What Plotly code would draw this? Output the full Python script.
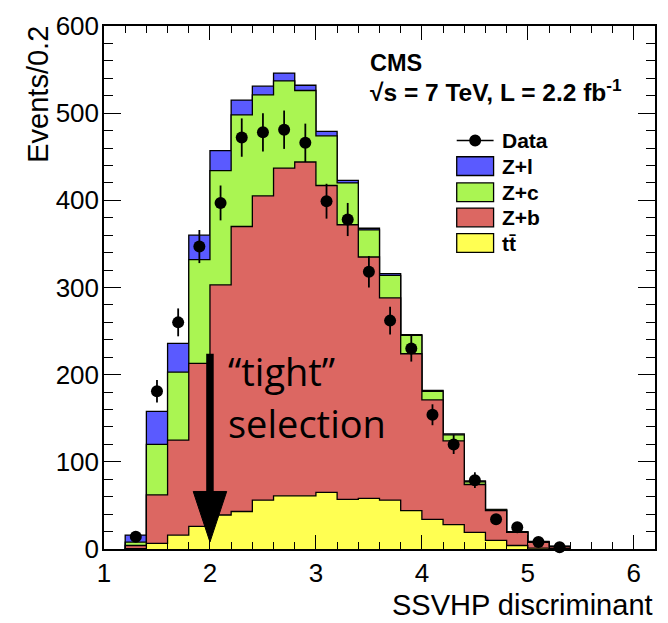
import plotly.graph_objects as go

# ---------------- data ----------------
bin_lo = [1.2, 1.4, 1.6, 1.8, 2.0, 2.2, 2.4, 2.6, 2.8, 3.0, 3.2,
          3.4, 3.6, 3.8, 4.0, 4.2, 4.4, 4.6, 4.8, 5.0, 5.2]
bin_width = 0.2
ttbar = [0.5, 6.5, 16, 26, 39, 43, 56, 61, 61, 65, 57, 58, 56, 44, 34, 28, 19, 10, 4, 1, 0.3]
z_b = [3.5, 55.5, 109, 187, 264, 327, 349, 376, 383, 352, 315, 277, 232, 180, 137, 96, 55, 34, 15, 6.5, 2.3]
z_c = [4, 58, 78, 119, 131, 128, 116, 100, 82, 57, 48, 31, 26, 21, 10, 7, 3, 1, 0.6, 0.8, 0.4]
z_l = [8, 38, 33, 28, 23, 17, 10, 9, 6, 5, 3, 2, 2, 1, 1, 1, 1, 0.5, 0.4, 0.3, 0.2]
data_val = [14, 181, 260, 347, 397, 472, 478, 481, 466, 399, 378, 318, 262, 230, 154, 120, 79, 34, 25, 8, 2]
data_err = [4, 13, 16, 19, 20, 22, 22, 22, 22, 20, 19, 18, 16, 15, 12, 11, 9, 6, 5, 3, 1.5]

TT = "tt\u0304"
colors = {"Z+l": "#5a5aff", "Z+c": "#aaf552", "Z+b": "#dc6762", TT: "#ffff52"}

# ---------------- figure ----------------
W, H = 668, 623
ML, MR, MT, MB = 104, 11, 19, 74
PW, PH = W - ML - MR, H - MT - MB


def px(x):
    return (x - ML) / PW


def py(y):
    return (H - MB - y) / PH


fig = go.Figure()

# cumulative stacks
cum_tt = list(ttbar)
cum_zb = [a + b for a, b in zip(cum_tt, z_b)]
cum_zc = [a + b for a, b in zip(cum_zb, z_c)]
cum_zl = [a + b for a, b in zip(cum_zc, z_l)]

x_end = bin_lo[-1] + bin_width
step_x = [bin_lo[0]] + bin_lo + [x_end, x_end]

for name, cum in [("Z+l", cum_zl), ("Z+c", cum_zc), ("Z+b", cum_zb), (TT, cum_tt)]:
    step_y = [0] + cum + [cum[-1], 0]
    fig.add_trace(go.Scatter(
        x=step_x, y=step_y, mode="lines", line_shape="hv",
        line=dict(color="black", width=1.3),
        fill="tozeroy", fillcolor=colors[name], name=name, showlegend=False,
        hoverinfo="skip"))

centers = [b + bin_width / 2 for b in bin_lo]
fig.add_trace(go.Scatter(
    x=centers, y=data_val, mode="markers", name="Data", showlegend=False,
    marker=dict(color="black", size=12),
    error_y=dict(type="data", array=data_err, color="black", thickness=1.8, width=0),
    cliponaxis=False))

# arrow "tight" selection
arrow_x = 2.0
fig.add_shape(type="line", x0=arrow_x, x1=arrow_x, y0=60, y1=224,
              line=dict(color="black", width=7.5), xref="x", yref="y")
fig.add_shape(type="path", xref="x", yref="y",
              path=f"M {arrow_x-0.158},66 L {arrow_x+0.158},66 L {arrow_x},8 Z",
              fillcolor="black", line=dict(color="black", width=1))

ann = []
ann.append(dict(text="\u201ctight\u201d", x=px(226), y=py(369), xref="paper", yref="paper",
                xanchor="left", yanchor="middle", showarrow=False,
                font=dict(family="Open Sans", size=38, color="black")))
ann.append(dict(text="selection", x=px(226), y=py(421), xref="paper", yref="paper",
                xanchor="left", yanchor="middle", showarrow=False,
                font=dict(family="Open Sans", size=38, color="black")))

# CMS labels
ann.append(dict(text="<b>CMS</b>", x=px(369), y=py(57), xref="paper", yref="paper",
                xanchor="left", yanchor="middle", showarrow=False,
                font=dict(family="Liberation Sans", size=23.5, color="black")))
ann.append(dict(text="<b>\u221as = 7 TeV, L = 2.2 fb<sup>-1</sup></b>", x=px(369), y=py(84),
                xref="paper", yref="paper", xanchor="left", yanchor="middle", showarrow=False,
                font=dict(family="Liberation Sans", size=24.5, color="black")))

# custom legend
lx0, lx1 = 458, 495
row_data = 135
rows = [("Z+l", 161), ("Z+c", 187.5), ("Z+b", 213), (TT, 239)]
box_h = 19
fig.add_shape(type="line", xref="paper", yref="paper", x0=px(lx0), x1=px(lx1),
              y0=py(row_data), y1=py(row_data), line=dict(color="black", width=1.5))
fig.add_shape(type="circle", xref="paper", yref="paper",
              x0=px((lx0 + lx1) / 2 - 6), x1=px((lx0 + lx1) / 2 + 6),
              y0=py(row_data - 6), y1=py(row_data + 6), fillcolor="black",
              line=dict(color="black", width=0))
ann.append(dict(text="<b>Data</b>", x=px(501), y=py(row_data), xref="paper", yref="paper",
                xanchor="left", yanchor="middle", showarrow=False,
                font=dict(family="Liberation Sans", size=21, color="black")))
for name, yc in rows:
    fig.add_shape(type="rect", xref="paper", yref="paper", x0=px(lx0), x1=px(lx1),
                  y0=py(yc - box_h / 2), y1=py(yc + box_h / 2),
                  fillcolor=colors[name], line=dict(color="black", width=1.3))
    ann.append(dict(text=f"<b>{name}</b>", x=px(501), y=py(yc), xref="paper", yref="paper",
                    xanchor="left", yanchor="middle", showarrow=False,
                    font=dict(family="Liberation Sans", size=21, color="black")))

# axis titles
ann.append(dict(text="Events/0.2", x=px(37), y=py(17), xref="paper", yref="paper",
                xanchor="center", yanchor="top", textangle=-90, showarrow=False,
                font=dict(family="Liberation Sans", size=29, color="black")))
ann.append(dict(text="SSVHP discriminant", x=1.0, y=py(606), xref="paper", yref="paper",
                xanchor="right", yanchor="middle", showarrow=False,
                font=dict(family="Liberation Sans", size=29, color="black")))

fig.update_layout(
    width=W, height=H,
    margin=dict(l=ML, r=MR, t=MT, b=MB, pad=0),
    paper_bgcolor="white", plot_bgcolor="white",
    showlegend=False, annotations=ann,
    font=dict(family="Liberation Sans", color="black"),
)
fig.update_xaxes(
    range=[1, 6.2], showgrid=False, zeroline=False,
    showline=True, linecolor="black", linewidth=1.5, mirror="ticks",
    ticks="inside", ticklen=14, tickwidth=1.2, tickcolor="black",
    tick0=1, dtick=1, tickfont=dict(size=26, family="Liberation Sans"),
    minor=dict(ticks="inside", ticklen=7, dtick=0.2, tickcolor="black", tickwidth=1.2, showgrid=False),
)
fig.update_yaxes(
    range=[0, 600], showgrid=False, zeroline=False,
    showline=True, linecolor="black", linewidth=1.5, mirror="ticks",
    ticks="inside", ticklen=17, tickwidth=1.2, tickcolor="black",
    tick0=0, dtick=100, tickfont=dict(size=26, family="Liberation Sans"),
    ticklabelstandoff=-2,
    minor=dict(ticks="inside", ticklen=9, dtick=20, tickcolor="black", tickwidth=1.2, showgrid=False),
)

fig.write_html("out.html")
